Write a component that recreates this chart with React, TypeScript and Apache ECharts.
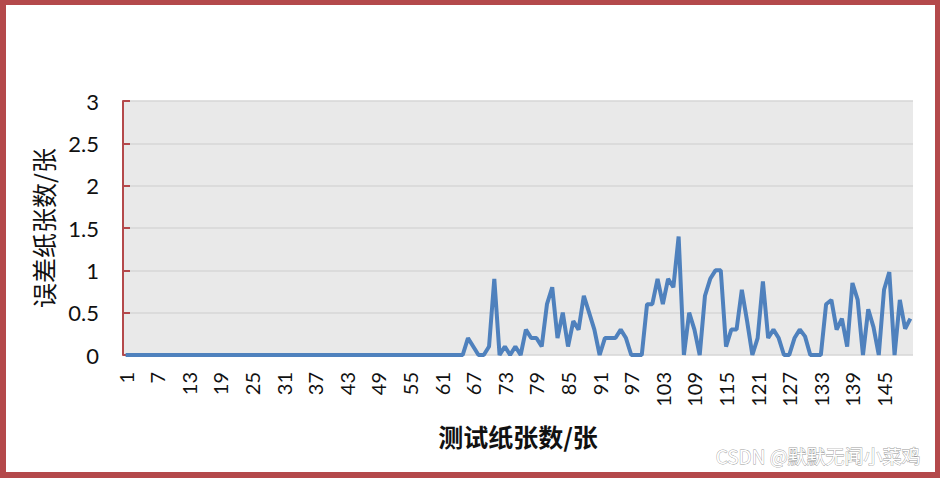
import React, { useEffect, useRef } from "react";
import * as echarts from "echarts";

const categories: string[] = Array.from({ length: 150 }, (_, i) => String(i + 1));

const leadingZeros: number[] = [
  0, 0, 0, 0, 0, 0, 0, 0, 0, 0, 0, 0, 0, 0, 0, 0, 0, 0, 0, 0,
  0, 0, 0, 0, 0, 0, 0, 0, 0, 0, 0, 0, 0, 0, 0, 0, 0, 0, 0, 0,
  0, 0, 0, 0, 0, 0, 0, 0, 0, 0, 0, 0, 0, 0, 0, 0, 0, 0, 0, 0,
  0, 0, 0, 0, 0,
];

const laterValues: number[] = [
  0.2, 0.1, 0, 0, 0.1, 0.9, 0, 0.1, 0, 0.1,
  0, 0.3, 0.2, 0.2, 0.1, 0.6, 0.8, 0.2, 0.5, 0.1,
  0.4, 0.3, 0.7, 0.5, 0.3, 0, 0.2, 0.2, 0.2, 0.3,
  0.2, 0, 0, 0, 0.6, 0.6, 0.9, 0.6, 0.9, 0.8,
  1.4, 0, 0.5, 0.3, 0, 0.7, 0.9, 1, 1, 0.1,
  0.3, 0.3, 0.77, 0.4, 0, 0.2, 0.87, 0.2, 0.3, 0.2,
  0, 0, 0.2, 0.3, 0.22, 0, 0, 0, 0.6, 0.65,
  0.3, 0.43, 0.1, 0.85, 0.65, 0, 0.54, 0.33, 0, 0.77,
  0.98, 0, 0.65, 0.31, 0.43,
];

const errorCounts: number[] = [...leadingZeros, ...laterValues];

const xName = "测试纸张数/张";
const yName = "误差纸张数/张";
const watermark = "CSDN @默默无闻小菜鸡";

export default function App() {
  const ref = useRef<HTMLDivElement>(null);

  useEffect(() => {
    document.body.style.margin = "0";
    const chart = echarts.init(ref.current!, undefined, { renderer: "svg" });
    const border = "#B4494B";
    chart.setOption({
      animation: false,
      backgroundColor: "#ffffff",
      grid: {
        left: 123,
        top: 101,
        right: 27,
        bottom: 123,
        show: true,
        backgroundColor: "#E9E9E9",
        borderWidth: 0,
      },
      xAxis: {
        type: "category",
        data: categories,
        boundaryGap: true,
        name: xName,
        nameLocation: "middle",
        nameGap: 68,
        nameTextStyle: {
          fontFamily: "Noto Sans CJK SC",
          fontSize: 25,
          fontWeight: "bold",
          color: "#111",
        },
        axisLine: { show: false },
        axisTick: { show: false },
        axisLabel: {
          interval: 5,
          rotate: 90,
          margin: 17,
          fontFamily: "Lato",
          fontSize: 20,
          color: "#111",
        },
        splitLine: { show: false },
      },
      yAxis: {
        type: "value",
        min: 0,
        max: 3,
        interval: 0.5,
        name: yName,
        nameLocation: "middle",
        nameGap: 68,
        nameTextStyle: {
          fontFamily: "Noto Sans CJK SC",
          fontSize: 25,
          color: "#111",
        },
        axisLine: { show: true, lineStyle: { color: border, width: 2 } },
        axisTick: { show: true, inside: true, length: 7, lineStyle: { color: border, width: 2 } },
        axisLabel: {
          margin: 24,
          fontFamily: "Lato",
          fontSize: 22,
          color: "#111",
        },
        splitLine: { show: true, lineStyle: { color: "#D6D6D6", width: 1.5 } },
      },
      series: [
        {
          type: "line",
          data: errorCounts,
          symbol: "none",
          lineStyle: { color: "#4F81BD", width: 4 },
          z: 3,
        },
      ],
      graphic: [
        { type: "rect", shape: { x: 0, y: 0, width: 6, height: 478 }, style: { fill: border } },
        { type: "rect", shape: { x: 0, y: 0, width: 940, height: 5 }, style: { fill: border } },
        { type: "rect", shape: { x: 935, y: 0, width: 5, height: 478 }, style: { fill: border } },
        { type: "rect", shape: { x: 0, y: 472, width: 940, height: 6 }, style: { fill: border } },
        {
          type: "text",
          right: 19,
          top: 446,
          style: {
            text: watermark,
            fontFamily: "Noto Sans CJK SC",
            fontSize: 19,
            fill: "#ffffff",
            stroke: "#9a9a9a",
            lineWidth: 0.8,
          },
        },
      ],
    });
    return () => chart.dispose();
  }, []);

  return <div ref={ref} style={{ width: 940, height: 478 }} />;
}
